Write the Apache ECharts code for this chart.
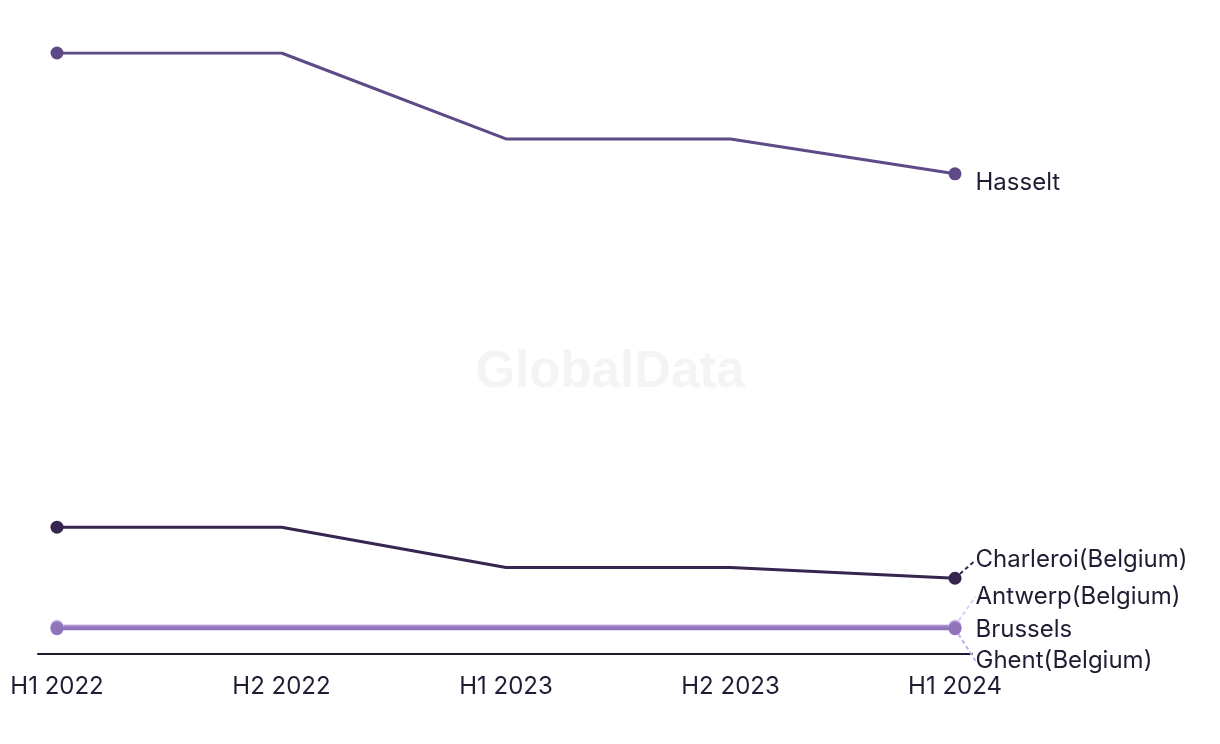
<!DOCTYPE html>
<html>
<head>
<meta charset="utf-8">
<style>
  html, body { margin: 0; padding: 0; background: #ffffff; }
  #chart { width: 1220px; height: 744px; }
</style>
<script src="https://cdn.jsdelivr.net/npm/echarts@6/dist/echarts.min.js"></script>
</head>
<body>
<div id="chart"></div>
<script>
const categories = ['H1 2022', 'H2 2022', 'H1 2023', 'H2 2023', 'H1 2024'];
const hasselt   = [100, 100, 85.7, 85.7, 79.9];
const charleroi = [21.1, 21.1, 14.4, 14.4, 12.6];
const antwerp   = [4.7, 4.7, 4.7, 4.7, 4.7];
const brussels  = [4.45, 4.45, 4.45, 4.45, 4.45];
const ghent     = [4.2, 4.2, 4.2, 4.2, 4.2];

// styling (not data)
const seriesDefs = [
  { name: 'Hasselt', data: hasselt, color: '#5d4a86', width: 3, guide: null, dy: 9 },
  { name: 'Charleroi(Belgium)', data: charleroi, color: '#35254f', width: 3, guide: '#35254f', dy: -18 },
  { name: 'Antwerp(Belgium)', data: antwerp, color: '#e3d3f7', width: 3, guide: '#dccbf5', dy: -29 },
  { name: 'Brussels', data: brussels, color: '#9d82c6', width: 4, guide: null, dy: 3 },
  { name: 'Ghent(Belgium)', data: ghent, color: '#8f74bb', width: 3, guide: '#c4aeea', dy: 32 }
];

const FONT = 'Inter, "Noto Sans", sans-serif';
const TEXT = '#1f1d33';

const chart = echarts.init(document.getElementById('chart'), null, { renderer: 'canvas' });

const series = seriesDefs.map(s => ({
  name: s.name,
  type: 'line',
  data: s.data.map((v, i) => {
    const last = i === s.data.length - 1;
    const first = i === 0;
    const item = { value: v, symbol: (first || last) ? 'circle' : 'none' };
    if (last) {
      item.label = {
        show: true,
        position: 'right',
        distance: 14,
        formatter: s.name,
        color: TEXT,
        fontFamily: FONT,
        fontSize: 24
      };
      item.labelLine = {
        show: !!s.guide,
        length2: 0,
        lineStyle: { color: s.guide || 'transparent', type: [4, 3], width: 2 }
      };
    }
    return item;
  }),
  symbol: 'circle',
  symbolSize: 13,
  showSymbol: true,
  lineStyle: { color: s.color, width: s.width },
  itemStyle: { color: s.color },
  labelLayout: function () { return { dy: s.dy }; },
  silent: true,
  animation: false
}));

chart.setOption({
  backgroundColor: '#ffffff',
  animation: false,
  graphic: [{
    type: 'text',
    left: 'center',
    top: 347,
    style: {
      text: 'GlobalData',
      fill: '#f4f4f4',
      font: 'bold 51px "Liberation Sans", Arial, sans-serif'
    },
    z: -1
  }],
  grid: [
    { left: 57, right: 265, top: 53, bottom: 90 },
    { left: 38, right: 248, top: 53, bottom: 90 }
  ],
  xAxis: [
    {
      type: 'category',
      gridIndex: 0,
      data: categories,
      boundaryGap: false,
      axisLine: { show: false },
      axisTick: { show: false },
      splitLine: { show: false },
      axisLabel: { color: TEXT, fontFamily: FONT, fontSize: 24, margin: 21 }
    },
    {
      type: 'value',
      gridIndex: 1,
      min: 0,
      max: 1,
      axisLine: { show: true, lineStyle: { color: '#1a1a2e', width: 2 } },
      axisTick: { show: false },
      splitLine: { show: false },
      axisLabel: { show: false }
    }
  ],
  yAxis: [
    { type: 'value', gridIndex: 0, min: 0, max: 100, show: false },
    { type: 'value', gridIndex: 1, min: 0, max: 1, show: false }
  ],
  series: series
});
</script>
</body>
</html>
